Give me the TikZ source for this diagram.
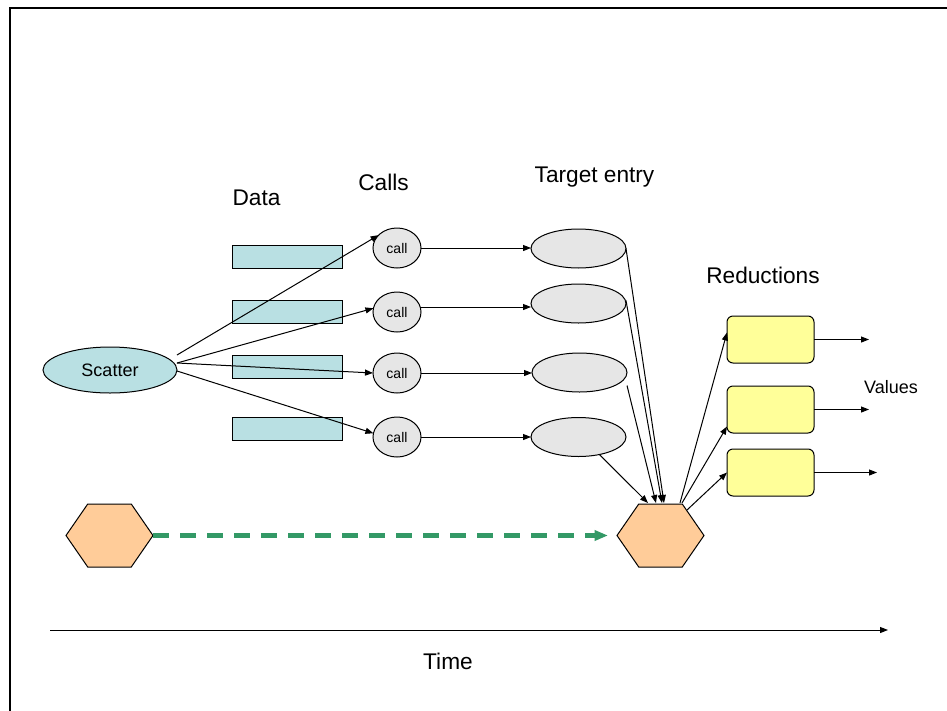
\documentclass[tikz,border=0pt]{standalone}
\usepackage{fontspec}
\setmainfont{Liberation Sans}
\usetikzlibrary{shapes.geometric,arrows.meta,calc}

\definecolor{datafill}{RGB}{185,224,227}
\definecolor{callfill}{RGB}{230,230,230}
\definecolor{hexfill}{RGB}{255,204,153}
\definecolor{redfill}{RGB}{255,255,153}
\definecolor{flowgreen}{RGB}{51,153,102}

\tikzset{
  thinline/.style={line width=0.75pt, draw=black},
  arr/.style={thinline, -{Triangle[length=6pt,width=4.5pt]}},
  heading/.style={font=\fontsize{17}{20}\selectfont, anchor=base, inner sep=0pt},
  databox/.style={rectangle, thinline, fill=datafill, minimum width=82.5pt, minimum height=17.25pt, inner sep=0pt, outer sep=0pt},
  scatternode/.style={ellipse, thinline, fill=datafill, minimum width=100.5pt, minimum height=34.5pt, inner sep=0pt, outer sep=0pt, font=\fontsize{13.5}{16}\selectfont},
  callnode/.style={ellipse, thinline, fill=callfill, minimum width=36pt, minimum height=30pt, inner sep=0pt, outer sep=0pt, font=\fontsize{10.5}{12}\selectfont},
  entrynode/.style={ellipse, thinline, fill=callfill, minimum width=71.25pt, minimum height=29.25pt, inner sep=0pt, outer sep=0pt},
  hexframe/.style={rectangle, minimum width=65.25pt, minimum height=47.25pt, inner sep=0pt, outer sep=0pt},
  hexdraw/.style={thinline, fill=hexfill},
  rednode/.style={rectangle, rounded corners=4.5pt, thinline, fill=redfill, minimum width=65.25pt, minimum height=35.25pt, inner sep=0pt, outer sep=0pt},
  flow/.style={draw=flowgreen, line width=3.2pt, dash pattern=on 12pt off 8.25pt, -{Triangle[length=10pt,width=7.5pt]}},
}

\begin{document}
\begin{tikzpicture}[x=0.75pt,y=-0.75pt]
\useasboundingbox (0,0) rectangle (947,711);

% page frame (top and left edges)
\coordinate (fa) at (10,711);
\coordinate (fb) at (10,8);
\coordinate (fc) at (947,8);
\draw[line width=1.5pt] (fa) -- (fb) -- (fc);

% column headings
\node[heading] (hdata) at (256.5,205) {Data};
\node[heading] (hcalls) at (383.5,190) {Calls};
\node[heading] (htarget) at (594.5,182) {Target entry};
\node[heading] (hred) at (763,283) {Reductions};
\node[anchor=base, inner sep=0pt, font=\fontsize{13.5}{16}\selectfont] (hval) at (891,393) {Values};

% data blocks
\node[databox] (d1) at (287,256.5) {};
\node[databox] (d2) at (287,311.5) {};
\node[databox] (d3) at (287,366.5) {};
\node[databox] (d4) at (287,429) {};

% scatter source
\node[scatternode] (scatter) at (110,370) {Scatter};

% calls
\node[callnode] (c1) at (397,248) {call};
\node[callnode] (c2) at (397,312) {call};
\node[callnode] (c3) at (397,373) {call};
\node[callnode] (c4) at (397,437) {call};

% target entries
\node[entrynode] (t1) at (578.5,248.5) {};
\node[entrynode] (t2) at (578.5,303.5) {};
\node[entrynode] (t3) at (579.5,372.5) {};
\node[entrynode] (t4) at (578.5,437) {};

% hexagons
\node[hexframe] (hexL) at (109.5,535.5) {};
\node[hexframe] (hexR) at (660.5,535.5) {};
\foreach \h in {hexL,hexR}{
  \draw[hexdraw] (\h.west)
    -- ($(\h.north west)!.25!(\h.north east)$)
    -- ($(\h.north west)!.75!(\h.north east)$)
    -- (\h.east)
    -- ($(\h.south west)!.75!(\h.south east)$)
    -- ($(\h.south west)!.25!(\h.south east)$)
    -- cycle;
}

% reductions
\node[rednode] (r1) at (770.5,339.5) {};
\node[rednode] (r2) at (770.5,409.5) {};
\node[rednode] (r3) at (770.5,472.5) {};

% scatter to calls
\draw[arr] ($(scatter.east)+(0,-15)$) -- (c1.145);
\draw[arr] ($(scatter.east)+(0,-7)$) -- (c2.171);
\draw[arr] ($(scatter.east)+(0,-7)$) -- (c3.west);
\draw[arr] ($(scatter.east)+(0,1)$) -- (c4.171);

% calls to target entries
\coordinate (c2o) at ($(c2.east)+(0,-5)$);
\draw[arr] (c1.east) -- (c1.east -| t1.west);
\draw[arr] (c2o) -- (c2o -| t2.west);
\draw[arr] (c3.east) -- (c3.east -| t3.west);
\draw[arr] (c4.east) -- (c4.east -| t4.west);

% target entries to the reduction hexagon
\draw[arr] (t1.east) -- ($(hexR.north)+(3.5,-1)$);
\draw[arr] ($(t2.east)+(0,-3)$) -- ($(hexR.north)+(1.5,-1)$);
\draw[arr] ($(t3.east)+(0,13)$) -- ($(hexR.north)+(-4.5,-1)$);
\draw[arr] (t4.-40) -- ($(hexR.north)+(-12.5,-1)$);

% hexagon to reductions
\draw[arr] ($(hexR.north)+(19.5,-1)$) -- ($(r1.west)+(0,-7)$);
\draw[arr] ($(hexR.north)+(21.5,-1)$) -- ($(r2.west)+(0,17)$);
\draw[arr] ($(hexR.north)+(26.5,6)$) -- (r3.west);

% output values
\coordinate (o1) at (869,339.5);
\coordinate (o2) at (869,409.5);
\coordinate (o3) at (877,472.5);
\draw[arr] (r1.east) -- (o1);
\draw[arr] (r2.east) -- (o2);
\draw[arr] (r3.east) -- (o3);

% dashed flow between hexagons
\draw[flow, shorten >=6.75pt] (hexL.east) -- (hexR.west);

% time axis
\coordinate (ta) at (50,630);
\coordinate (tb) at (888,630);
\draw[arr] (ta) -- (tb);
\node[heading] (htime) at (448,669) {Time};
\end{tikzpicture}
\end{document}
